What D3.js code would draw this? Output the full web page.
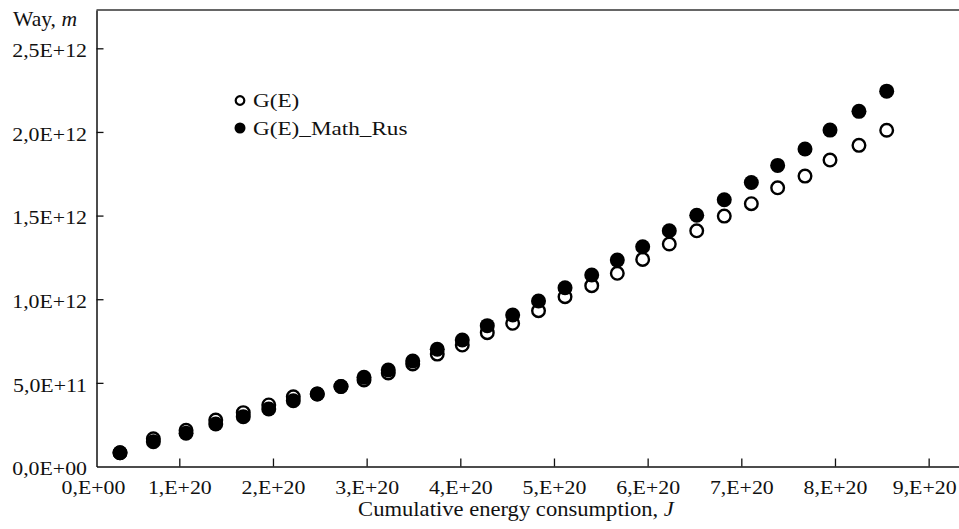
<!DOCTYPE html>
<html>
<head>
<meta charset="utf-8">
<script src="https://cdn.jsdelivr.net/npm/d3@7"></script>
<style>
  body { margin: 0; background: #fff; }
  svg text { font-family: "Liberation Serif", "Times New Roman", serif; fill: #111; }
</style>
</head>
<body>
<div id="chart"></div>
<script>
// Cumulative energy consumption, J
var energy = [0.367e20, 0.723e20, 1.072e20, 1.389e20, 1.683e20, 1.955e20, 2.217e20, 2.473e20, 2.726e20, 2.972e20,
              3.231e20, 3.492e20, 3.754e20, 4.021e20, 4.288e20, 4.559e20, 4.835e20, 5.118e20, 5.403e20, 5.676e20,
              5.947e20, 6.231e20, 6.524e20, 6.818e20, 7.107e20, 7.388e20, 7.680e20, 7.947e20, 8.256e20, 8.552e20];
// G(E), way in m (open circles)
var wayG = [0.0825e12, 0.166e12, 0.216e12, 0.278e12, 0.322e12, 0.368e12, 0.417e12, 0.433e12, 0.478e12, 0.517e12,
            0.559e12, 0.613e12, 0.672e12, 0.726e12, 0.800e12, 0.856e12, 0.931e12, 1.015e12, 1.081e12, 1.155e12,
            1.238e12, 1.330e12, 1.409e12, 1.497e12, 1.571e12, 1.666e12, 1.736e12, 1.832e12, 1.920e12, 2.010e12];
// G(E)_Math_Rus (filled circles)
var wayMath = [0.0825e12, 0.148e12, 0.199e12, 0.254e12, 0.298e12, 0.344e12, 0.393e12, 0.433e12, 0.478e12, 0.533e12,
               0.577e12, 0.631e12, 0.701e12, 0.756e12, 0.842e12, 0.906e12, 0.989e12, 1.069e12, 1.145e12, 1.234e12,
               1.314e12, 1.409e12, 1.502e12, 1.595e12, 1.698e12, 1.800e12, 1.898e12, 2.011e12, 2.123e12, 2.244e12];

var seriesNames = ["G(E)", "G(E)_Math_Rus"];
var xTicks = [0, 1e20, 2e20, 3e20, 4e20, 5e20, 6e20, 7e20, 8e20, 9e20];
var xTickLabels = ["0,E+00", "1,E+20", "2,E+20", "3,E+20", "4,E+20", "5,E+20", "6,E+20", "7,E+20", "8,E+20", "9,E+20"];
var yTicks = [0, 0.5e12, 1.0e12, 1.5e12, 2.0e12, 2.5e12];
var yTickLabels = ["0,0E+00", "5,0E+11", "1,0E+12", "1,5E+12", "2,0E+12", "2,5E+12"];

var width = 959, height = 529;
var margin = {top: 10, right: 0, bottom: 62.5, left: 96.5};
var w = width - margin.left - margin.right,
    h = height - margin.top - margin.bottom;

// the original lettering is wider than Liberation Serif, so texts get stretched sideways
var tickStretch = 1.12, titleStretch = 1.13, legendStretch = 1.22;

var svg = d3.select("#chart").append("svg")
    .attr("width", width)
    .attr("height", height);

var g = svg.append("g")
    .attr("transform", "translate(" + margin.left + "," + margin.top + ")");

var x = d3.scaleLinear().domain([0.116e20, 9.324e20]).range([0, w]);
var y = d3.scaleLinear().domain([0, 2.729e12]).range([h, 0]);

// X axis, ticks pointing inside
var xAxis = g.append("g")
    .attr("class", "x axis")
    .attr("transform", "translate(0," + h + ")")
    .call(d3.axisBottom(x)
        .tickValues(xTicks)
        .tickSizeInner(-8)
        .tickSizeOuter(0)
        .tickFormat(function (d, i) { return xTickLabels[i]; }));
xAxis.select(".domain").attr("stroke", "#111").attr("stroke-width", 1.5);
xAxis.selectAll(".tick line").attr("stroke", "#111").attr("stroke-width", 1.3);
xAxis.selectAll(".tick text")
    .attr("y", 27.5).attr("dy", 0)
    .attr("transform", "scale(" + tickStretch + ",1)")
    .style("font-size", "19.5px");
// zero tick sits left of the plot: hide its mark, pull its label to the axis corner
xAxis.selectAll(".tick").filter(function (d) { return d === 0; })
    .attr("transform", "translate(" + (x.range()[0] - 3) + ",0)")
    .select("line").remove();
// last label is nudged left so it stays inside the picture
xAxis.selectAll(".tick").filter(function (d) { return d === 9e20; })
    .select("text").attr("dx", -4);

// Y axis
var yAxis = g.append("g")
    .attr("class", "y axis")
    .call(d3.axisLeft(y)
        .tickValues(yTicks)
        .tickSizeInner(-7)
        .tickSizeOuter(0)
        .tickFormat(function (d, i) { return yTickLabels[i]; }));
yAxis.select(".domain").attr("stroke", "#111").attr("stroke-width", 1.5);
yAxis.selectAll(".tick line").attr("stroke", "#111").attr("stroke-width", 1.3);
yAxis.selectAll(".tick text")
    .attr("x", -9.5 / tickStretch)
    .attr("dy", "0.42em")
    .attr("transform", "scale(" + tickStretch + ",1)")
    .style("font-size", "19.5px");
yAxis.selectAll(".tick").filter(function (d) { return d === 0; }).select("line").remove();

// top frame line
g.append("line")
    .attr("x1", 0).attr("x2", w)
    .attr("y1", 0).attr("y2", 0)
    .attr("stroke", "#333")
    .attr("stroke-width", 1.5);

// Points: open circles first, filled drawn over them
g.selectAll("circle.open")
    .data(energy)
    .enter()
    .append("circle")
    .attr("class", "open")
    .attr("cx", function (d) { return x(d); })
    .attr("cy", function (d, i) { return y(wayG[i]); })
    .attr("r", 6.3)
    .attr("fill", "#fff")
    .attr("stroke", "#000")
    .attr("stroke-width", 2.4);

g.selectAll("circle.filled")
    .data(energy)
    .enter()
    .append("circle")
    .attr("class", "filled")
    .attr("cx", function (d) { return x(d); })
    .attr("cy", function (d, i) { return y(wayMath[i]); })
    .attr("r", 7.5)
    .attr("fill", "#000");

// Legend
var legend = svg.append("g").attr("transform", "translate(240,100.5)");
legend.append("circle").attr("cx", 0).attr("cy", 0).attr("r", 4.3)
    .attr("fill", "#fff").attr("stroke", "#000").attr("stroke-width", 2.2);
legend.append("circle").attr("cx", 0).attr("cy", 27.5).attr("r", 5.5).attr("fill", "#000");
legend.selectAll("text.leg")
    .data(seriesNames)
    .enter()
    .append("text")
    .attr("class", "leg")
    .attr("transform", function (d, i) {
        return "translate(13," + (6.5 + i * 27.5) + ") scale(" + legendStretch + ",1)";
    })
    .style("font-size", "19px")
    .text(function (d) { return d; });

// Axis titles
var yTitle = svg.append("text")
    .attr("transform", "translate(13,26) scale(1.08,1)")
    .style("font-size", "20px");
yTitle.append("tspan").text("Way, ");
yTitle.append("tspan").style("font-style", "italic").text("m");

var xTitle = svg.append("text")
    .attr("transform", "translate(516,516) scale(" + titleStretch + ",1)")
    .attr("text-anchor", "middle")
    .style("font-size", "20px");
xTitle.append("tspan").text("Cumulative energy consumption, ");
xTitle.append("tspan").style("font-style", "italic").text("J");
</script>
</body>
</html>
